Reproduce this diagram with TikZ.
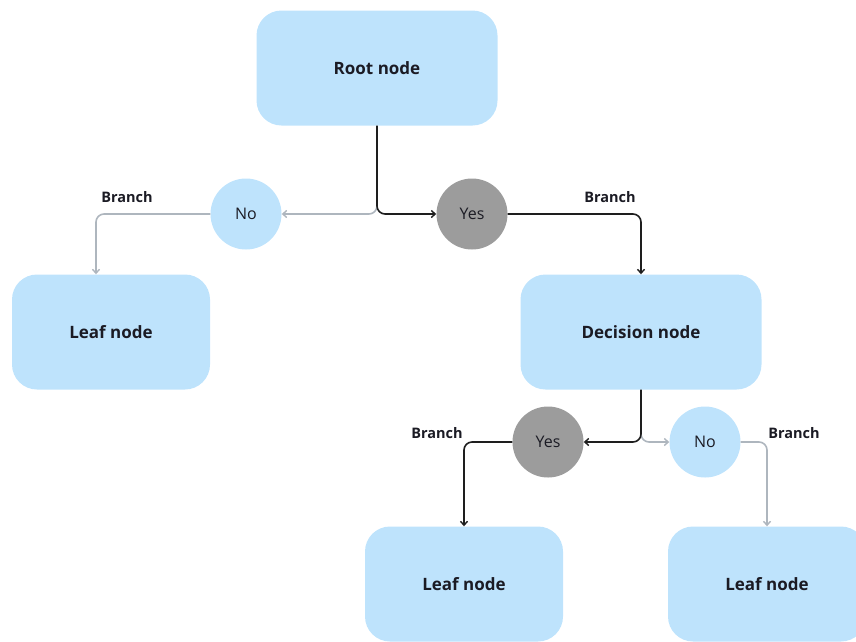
\documentclass[tikz,border=0pt]{standalone}
\usepackage{fontspec}
\setmainfont{Open Sans}
\usetikzlibrary{arrows.meta}
\definecolor{boxblue}{HTML}{BEE3FC}
\definecolor{circgray}{HTML}{9C9C9C}
\definecolor{inkdark}{HTML}{1B1B24}
\definecolor{linegray}{HTML}{AEB6BE}
\definecolor{lineblack}{HTML}{1E1E1E}
\tikzset{
  box/.style={draw=none, fill=boxblue, rounded corners=25pt, minimum width=198pt,
    minimum height=115pt, inner sep=0pt, font=\fontsize{17}{20}\selectfont\bfseries, text=inkdark},
  widebox/.style={box, minimum width=241pt},
  choice/.style={circle, draw=none, minimum size=71pt, inner sep=0pt,
    font=\fontsize{16}{19}\selectfont, text=inkdark},
  nochoice/.style={choice, fill=boxblue},
  yeschoice/.style={choice, fill=circgray},
  branchlbl/.style={font=\fontsize{14.5}{17}\selectfont\bfseries, text=inkdark},
  dark/.style={draw=lineblack, line width=1.6pt, rounded corners=8pt,
    -{Straight Barb[length=4pt,width=7pt,line width=1.4pt]}},
  light/.style={draw=linegray, line width=1.6pt, rounded corners=8pt,
    -{Straight Barb[length=4pt,width=7pt,line width=1.4pt]}},
}
\begin{document}
\begin{tikzpicture}[x=1pt,y=-1pt]
\useasboundingbox (0,0) rectangle (856,641);
\begin{scope}
\clip (0,0) rectangle (856,641);
% boxes
\node[widebox] (root) at (377,68) {Root node};
\node[box] (leafL) at (111,332) {Leaf node};
\node[widebox] (dec) at (641,332) {Decision node};
\node[box] (leafM) at (464,584) {Leaf node};
\node[box] (leafR) at (767,584) {Leaf node};
% choice circles
\node[nochoice] (no1) at (246,214) {No};
\node[yeschoice] (yes1) at (472,214) {Yes};
\node[yeschoice] (yes2) at (548,442) {Yes};
\node[nochoice] (no2) at (705,442) {No};
% branch labels
\node[branchlbl] (b1) at (127,197) {Branch};
\node[branchlbl] (b2) at (610,197) {Branch};
\node[branchlbl] (b3) at (437,433) {Branch};
\node[branchlbl] (b4) at (794,433) {Branch};
% connectors from the root
\coordinate (split1) at (root.south |- no1.east);
\draw[light] ([yshift=10pt]split1) -- (split1) -- (no1.east);
\draw[dark] (root.south) -- (split1) -- (yes1.west);
\draw[light] (no1.west) -| ([xshift=-15pt]leafL.north);
\draw[dark] (yes1.east) -| (dec.north);
% connectors from the decision node
\coordinate (split2) at (dec.south |- yes2.east);
\draw[light] ([yshift=10pt]split2) -- (split2) -- (no2.west);
\draw[dark] (dec.south) -- (split2) -- (yes2.east);
\draw[dark] (yes2.west) -| (leafM.north);
\draw[light] (no2.east) -| (leafR.north);
\end{scope}
\end{tikzpicture}
\end{document}
